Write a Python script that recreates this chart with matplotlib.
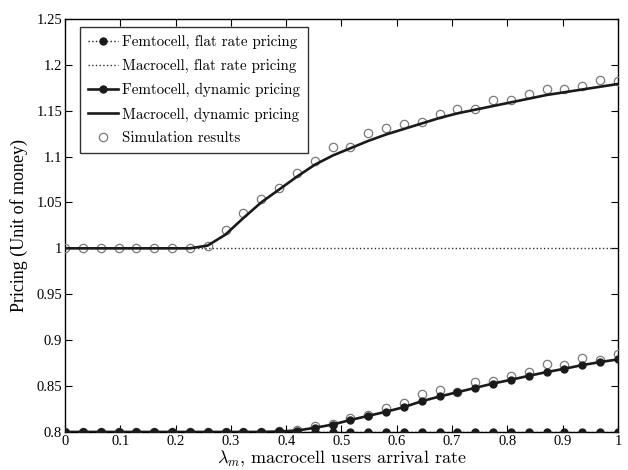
import numpy as np
import matplotlib
matplotlib.use("Agg")
import matplotlib.pyplot as plt
from matplotlib.lines import Line2D

plt.rcParams['mathtext.fontset'] = 'cm'

# arrival rate samples
lam = np.linspace(0, 1, 32)

femto_flat = [0.8] * 32
macro_flat = [1.0] * 32

macro_dyn = [1.0, 1.0, 1.0, 1.0, 1.0, 1.0, 1.0, 1.0, 1.003, 1.015,
             1.033, 1.050, 1.064, 1.078, 1.091, 1.101, 1.109, 1.117, 1.124, 1.130,
             1.136, 1.142, 1.147, 1.151, 1.155, 1.159, 1.163, 1.167, 1.170, 1.173,
             1.176, 1.179]

femto_dyn = [0.8, 0.8, 0.8, 0.8, 0.8, 0.8, 0.8, 0.8, 0.8, 0.8,
             0.8, 0.8, 0.8005, 0.8015, 0.8045, 0.808, 0.813, 0.8175, 0.822, 0.827,
             0.8335, 0.8386, 0.8433, 0.848, 0.8527, 0.8568, 0.8611, 0.8652, 0.8688, 0.8728,
             0.8761, 0.879]

sim_macro = [1.0, 1.0, 1.0, 1.0, 1.0, 1.0, 1.0, 1.0, 1.002, 1.020,
             1.0385, 1.054, 1.066, 1.082, 1.095, 1.110, 1.110, 1.126, 1.131, 1.135,
             1.138, 1.146, 1.152, 1.152, 1.162, 1.162, 1.168, 1.173, 1.173, 1.177,
             1.183, 1.182]

sim_femto = [0.8, 0.8, 0.8, 0.8, 0.8, 0.8, 0.8, 0.8, 0.8, 0.8,
             0.8, 0.8, 0.8005, 0.802, 0.806, 0.809, 0.815, 0.8182, 0.8262, 0.831,
             0.8415, 0.8455, 0.8433, 0.8542, 0.855, 0.8604, 0.8655, 0.8739, 0.8731, 0.8804,
             0.8782, 0.8852]

xticks = [0, 0.1, 0.2, 0.3, 0.4, 0.5, 0.6, 0.7, 0.8, 0.9, 1]
xticklabels = ['0', '0.1', '0.2', '0.3', '0.4', '0.5', '0.6', '0.7', '0.8', '0.9', '1']
yticks = [0.8, 0.85, 0.9, 0.95, 1.0, 1.05, 1.1, 1.15, 1.2, 1.25]
yticklabels = ['0.8', '0.85', '0.9', '0.95', '1', '1.05', '1.1', '1.15', '1.2', '1.25']

labels = ['Femtocell, flat rate pricing', 'Macrocell, flat rate pricing',
          'Femtocell, dynamic pricing', 'Macrocell, dynamic pricing', 'Simulation results']

fig = plt.figure(figsize=(6.28, 4.70), dpi=100)
ax = fig.add_axes([0.1035, 0.081, 0.8805, 0.879])

gray = '#7a7a7a'
ax.plot(lam, sim_macro, 'o', mfc='none', mec=gray, ms=6, mew=0.9, zorder=3)
ax.plot(lam, sim_femto, 'o', mfc='none', mec=gray, ms=6, mew=0.9, zorder=3)
ax.plot(lam, macro_flat, ':', color='#333333', lw=1.0, zorder=2)
ax.plot(lam, macro_dyn, '-', color='#1a1a1a', lw=1.9, zorder=4)
ax.plot(lam, femto_dyn, '-', color='#1a1a1a', lw=1.9, marker='o', ms=5, mfc='#1a1a1a', mec='#1a1a1a', zorder=4)
ax.plot(lam, femto_flat, ':', color='#1a1a1a', lw=1.0, marker='o', ms=5, mfc='#1a1a1a', mec='#1a1a1a', zorder=5)

ax.set_xlim(0, 1)
ax.set_ylim(0.8, 1.25)
ax.set_xticks(xticks)
ax.set_xticklabels(xticklabels, fontfamily='Liberation Serif', fontsize=10.5)
ax.set_yticks(yticks)
ax.set_yticklabels(yticklabels, fontfamily='Liberation Serif', fontsize=10.5)
ax.tick_params(direction='in', top=True, right=True, length=5, width=0.8, pad=2)
for s in ax.spines.values():
    s.set_linewidth(1.0)

ax.set_xlabel(r'$\lambda_m$, macrocell users arrival rate', fontfamily='cmr10', fontsize=13, labelpad=0)
ax.set_ylabel('Pricing (Unit of money)', fontfamily='Liberation Serif', fontsize=13, labelpad=6)

handles = [
    Line2D([], [], ls=':', color='#1a1a1a', lw=1.0, marker='o', ms=5, mfc='#1a1a1a', mec='#1a1a1a'),
    Line2D([], [], ls=':', color='#333333', lw=1.0),
    Line2D([], [], ls='-', color='#1a1a1a', lw=1.9, marker='o', ms=5, mfc='#1a1a1a', mec='#1a1a1a'),
    Line2D([], [], ls='-', color='#1a1a1a', lw=1.9),
    Line2D([], [], ls='none', marker='o', mfc='none', mec=gray, ms=6, mew=0.9),
]
leg = ax.legend(handles, labels, loc='upper left', bbox_to_anchor=(0.027, 0.98),
                prop={'family': 'cmr10', 'size': 10.8}, frameon=True, fancybox=False,
                edgecolor='black', handlelength=2.0, handletextpad=0.25, borderpad=0.55,
                labelspacing=0.66, borderaxespad=0)
leg.get_frame().set_linewidth(1.0)

fig.savefig('out.png', dpi=100)
